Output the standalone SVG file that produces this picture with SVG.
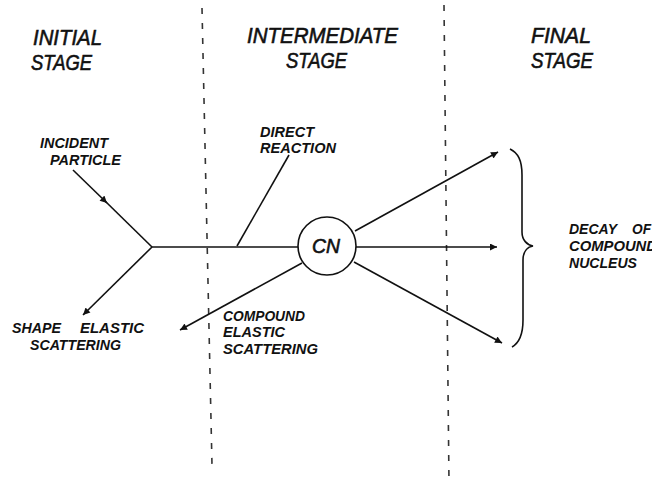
<svg xmlns="http://www.w3.org/2000/svg" width="652" height="483" viewBox="0 0 652 483">
<style>
  .ln{stroke:#111;stroke-width:1.6;fill:none}
  .dash{stroke:#333;stroke-width:1.6;fill:none;stroke-dasharray:6 9}
  .t{font-family:"Liberation Sans",Arial,sans-serif;font-style:italic;fill:#111;stroke:#111;stroke-width:0.6}
  .big{font-size:22px}
  .sm{font-size:14px;font-weight:bold;stroke-width:0}
  .cn{font-size:20px}
</style>
<defs>
  <marker id="ah" viewBox="0 0 10 10" refX="10" refY="5" markerWidth="10" markerHeight="7" markerUnits="userSpaceOnUse" orient="auto">
    <path d="M0,0 L10,5 L0,10 Z" fill="#111"/>
  </marker>
</defs>
<rect width="652" height="483" fill="#fff"/>
<g id="dividers">
  <line class="dash" x1="202" y1="8" x2="212" y2="465"/>
  <line class="dash" x1="444" y1="5" x2="449" y2="483"/>
</g>
<g id="headers">
  <text class="t big" x="33" y="45" textLength="69" lengthAdjust="spacingAndGlyphs">INITIAL</text>
  <text class="t big" x="31" y="70" textLength="61" lengthAdjust="spacingAndGlyphs">STAGE</text>
  <text class="t big" x="247" y="43" textLength="151" lengthAdjust="spacingAndGlyphs">INTERMEDIATE</text>
  <text class="t big" x="286" y="68" textLength="61" lengthAdjust="spacingAndGlyphs">STAGE</text>
  <text class="t big" x="531" y="43" textLength="60" lengthAdjust="spacingAndGlyphs">FINAL</text>
  <text class="t big" x="531" y="68" textLength="62" lengthAdjust="spacingAndGlyphs">STAGE</text>
</g>
<g id="connectors">
  <path class="ln" d="M73,170 L107,203" marker-end="url(#ah)"/>
  <path class="ln" d="M105,201 L152,247"/>
  <line class="ln" x1="152" y1="247" x2="298" y2="247"/>
  <line class="ln" x1="237" y1="246" x2="289" y2="155"/>
  <path class="ln" d="M152,247 L83,315" marker-end="url(#ah)"/>
  <path class="ln" d="M302,263 L180,330" marker-end="url(#ah)"/>
  <path class="ln" d="M355,231 L498,152" marker-end="url(#ah)"/>
  <path class="ln" d="M356,247 L497,247" marker-end="url(#ah)"/>
  <path class="ln" d="M354,262 L502,343" marker-end="url(#ah)"/>
</g>
<g id="CN">
  <circle class="ln" cx="327" cy="246" r="29"/>
  <text class="t cn" x="312" y="253" textLength="28" lengthAdjust="spacingAndGlyphs">CN</text>
</g>
<g id="incident">
  <text class="t sm" x="40" y="148" textLength="68" lengthAdjust="spacingAndGlyphs">INCIDENT</text>
  <text class="t sm" x="50" y="165" textLength="71" lengthAdjust="spacingAndGlyphs">PARTICLE</text>
</g>
<g id="direct">
  <text class="t sm" x="260" y="137" textLength="54" lengthAdjust="spacingAndGlyphs">DIRECT</text>
  <text class="t sm" x="260" y="153" textLength="76" lengthAdjust="spacingAndGlyphs">REACTION</text>
</g>
<g id="shape">
  <text class="t sm" x="12" y="333" textLength="49" lengthAdjust="spacingAndGlyphs">SHAPE</text>
  <text class="t sm" x="80" y="333" textLength="64" lengthAdjust="spacingAndGlyphs">ELASTIC</text>
  <text class="t sm" x="30" y="350" textLength="91" lengthAdjust="spacingAndGlyphs">SCATTERING</text>
</g>
<g id="compound">
  <text class="t sm" x="223" y="321" textLength="82" lengthAdjust="spacingAndGlyphs">COMPOUND</text>
  <text class="t sm" x="223" y="337" textLength="62" lengthAdjust="spacingAndGlyphs">ELASTIC</text>
  <text class="t sm" x="223" y="354" textLength="95" lengthAdjust="spacingAndGlyphs">SCATTERING</text>
</g>
<g id="decay">
  <path class="ln" d="M510,149 C518,153 522,160 522,175 L522,232 C522,240 527,245 533,246 C527,247 523,252 523,260 L523,320 C523,335 519,343 512,347"/>
  <text class="t sm" x="569" y="234" textLength="48" lengthAdjust="spacingAndGlyphs">DECAY</text>
  <text class="t sm" x="632" y="234" textLength="19" lengthAdjust="spacingAndGlyphs">OF</text>
  <text class="t sm" x="569" y="251" textLength="88" lengthAdjust="spacingAndGlyphs">COMPOUND</text>
  <text class="t sm" x="569" y="268" textLength="68" lengthAdjust="spacingAndGlyphs">NUCLEUS</text>
</g>
</svg>
